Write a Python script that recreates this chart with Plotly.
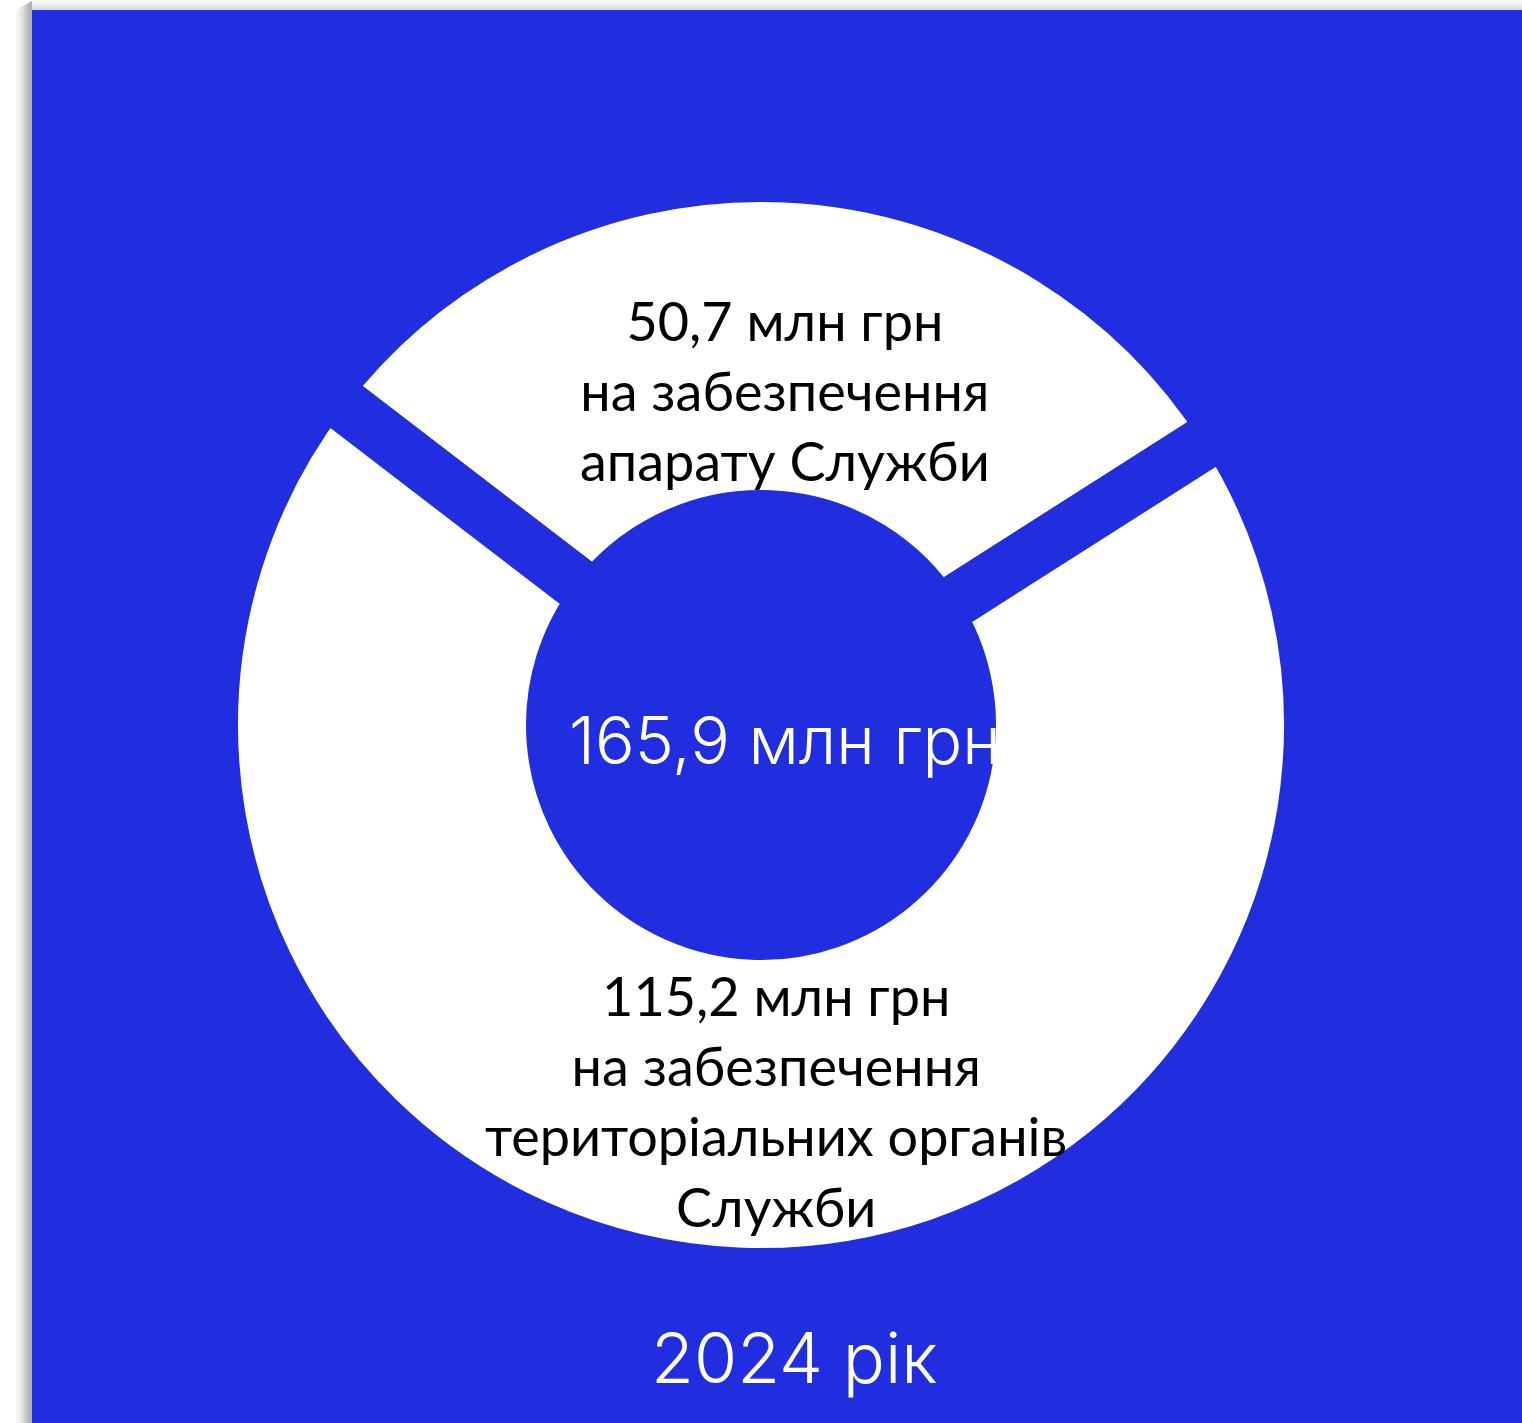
import plotly.graph_objects as go

# ---- data ----
labels = ["на забезпечення апарату Служби", "на забезпечення територіальних органів Служби"]
values = [50.7, 115.2]
total_label = "165,9 млн грн"
year_label = "2024 рік"
slice_texts = [
    "50,7 млн грн<br>на забезпечення<br>апарату Служби",
    "115,2 млн грн<br>на забезпечення<br>територіальних органів<br>Служби",
]

W, H = 1522, 1423
BLUE = "#212EE0"

def px(x):
    return x / W

def py(y):
    return (H - y) / H

# donut geometry (pixels)
cx, cy = 761, 725
r_vis_out, r_vis_in = 523, 235
gap = 53
R = r_vis_out + gap / 2
hole = (r_vis_in - gap / 2) / R

fig = go.Figure()
fig.add_trace(go.Pie(
    labels=labels,
    values=values,
    hole=hole,
    sort=False,
    direction="clockwise",
    rotation=-52.5,
    marker=dict(colors=["#FFFFFF", "#FFFFFF"], line=dict(color=BLUE, width=gap)),
    textinfo="none",
    hoverinfo="skip",
    showlegend=False,
    domain=dict(x=[px(cx - R), px(cx + R)], y=[py(cy + R), py(cy - R)]),
))

shapes = []
# white strip + soft shadow on the left and top
shapes.append(dict(type="rect", xref="paper", yref="paper", x0=0, x1=px(32), y0=0, y1=1,
                   fillcolor="white", line=dict(width=0), layer="below"))
shapes.append(dict(type="rect", xref="paper", yref="paper", x0=0, x1=1, y0=py(10), y1=1,
                   fillcolor="white", line=dict(width=0), layer="below"))
left_shades = ["#f7f7f7", "#efefef", "#e6e6e6", "#dcdcdc", "#d0d0d0", "#c2c2c2", "#b6b6b6", "#b0b0b0"]
for i, c in enumerate(left_shades):
    shapes.append(dict(type="rect", xref="paper", yref="paper",
                       x0=px(16 + 2 * i), x1=px(18 + 2 * i), y0=0, y1=py(10 - i * 10 / len(left_shades)),
                       fillcolor=c, line=dict(width=0), layer="below"))
top_shades = ["#f9f9f9", "#f3f3f3", "#ececec", "#e4e4e4", "#dcdcdc"]
for i, c in enumerate(top_shades):
    shapes.append(dict(type="rect", xref="paper", yref="paper",
                       x0=px(32), x1=1, y0=py(2 * i + 2), y1=py(2 * i),
                       fillcolor=c, line=dict(width=0), layer="below"))

annotations = [
    dict(x=px(785), y=py(391), text=slice_texts[0], showarrow=False, xref="paper", yref="paper",
         xanchor="center", yanchor="middle", align="center",
         font=dict(family="Lato", size=54, color="black")),
    dict(x=px(776), y=py(1101), text=slice_texts[1], showarrow=False, xref="paper", yref="paper",
         xanchor="center", yanchor="middle", align="center",
         font=dict(family="Lato", size=54, color="black")),
    dict(x=px(785), y=py(740), text=total_label, showarrow=False, xref="paper", yref="paper",
         xanchor="center", yanchor="middle",
         font=dict(family="Inter", size=66, color="white", weight=300)),
    dict(x=px(794), y=py(1357), text=year_label, showarrow=False, xref="paper", yref="paper",
         xanchor="center", yanchor="middle",
         font=dict(family="Inter", size=70, color="white", weight=300)),
]

fig.update_layout(
    width=W, height=H,
    margin=dict(l=0, r=0, t=0, b=0),
    paper_bgcolor=BLUE,
    plot_bgcolor=BLUE,
    shapes=shapes,
    annotations=annotations,
)

fig.write_html("out.html", config={"displayModeBar": False},
               post_script="document.body.style.margin='0';document.body.style.overflow='hidden';")
